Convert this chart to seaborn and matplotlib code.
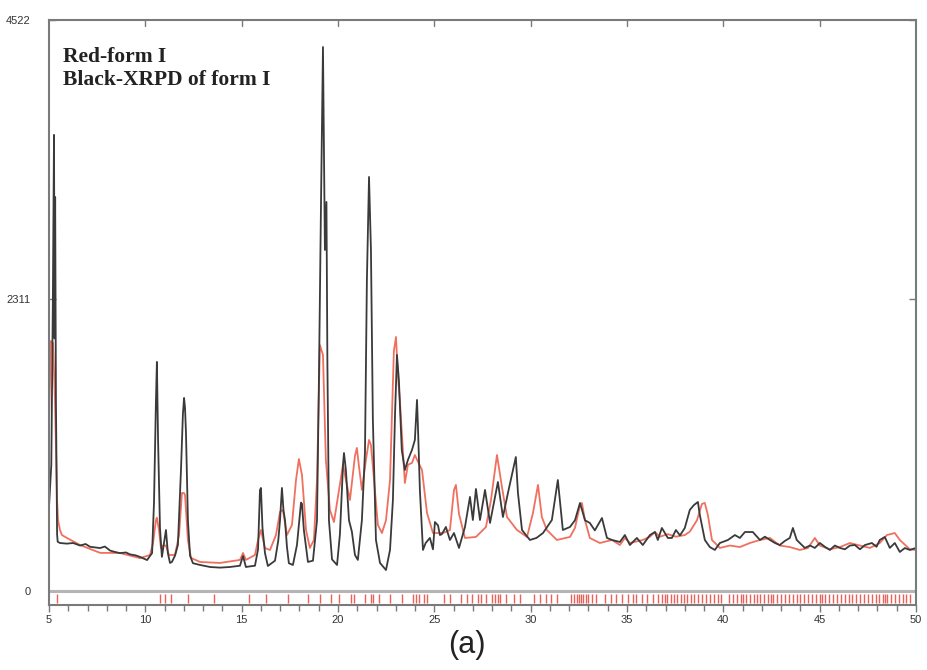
import numpy as np
import pandas as pd
import matplotlib
matplotlib.use("Agg")
import matplotlib.pyplot as plt
import seaborn as sns

# ---- data (2-theta in degrees, intensity in counts) ----
black_tt = [5.00, 5.12, 5.20, 5.26, 5.29, 5.32, 5.36, 5.42, 5.45, 5.57, 5.93, 6.25, 6.61, 6.90, 7.13,
            7.40, 7.65, 7.90, 8.17, 8.40, 8.68, 9.00, 9.20, 9.50, 9.72, 10.09, 10.35, 10.45, 10.55,
            10.60, 10.66, 10.76, 10.86, 10.97, 11.07, 11.17, 11.28, 11.38, 11.54, 11.69, 11.85, 11.95,
            12.01, 12.06, 12.11, 12.21, 12.32, 12.47, 12.84, 13.36, 13.87, 14.39, 14.91, 15.07, 15.22,
            15.43, 15.69, 15.85, 15.95, 16.00, 16.08, 16.21, 16.36, 16.73, 16.90, 16.99, 17.09, 17.17,
            17.25, 17.35, 17.45, 17.66, 17.87, 18.08, 18.13, 18.23, 18.44, 18.70, 18.91, 19.01, 19.12,
            19.22, 19.27, 19.32, 19.40, 19.45, 19.53, 19.69, 19.95, 20.10, 20.26, 20.31, 20.41, 20.57,
            20.72, 20.88, 21.03, 21.24, 21.40, 21.50, 21.61, 21.71, 21.81, 21.97, 22.18, 22.49, 22.70,
            22.85, 22.96, 23.06, 23.16, 23.31, 23.47, 23.63, 23.84, 23.99, 24.10, 24.15, 24.25, 24.41,
            24.55, 24.77, 24.93, 25.03, 25.19, 25.29, 25.39, 25.60, 25.81, 26.02, 26.28, 26.59, 26.85,
            27.00, 27.16, 27.37, 27.63, 27.89, 28.30, 28.56, 28.82, 29.23, 29.34, 29.55, 29.96, 30.30,
            30.64, 31.10, 31.41, 31.67, 32.04, 32.30, 32.56, 32.82, 33.07, 33.33, 33.70, 33.96, 34.22,
            34.63, 34.89, 35.15, 35.51, 35.82, 36.19, 36.45, 36.60, 36.81, 37.12, 37.33, 37.54, 37.75,
            38.00, 38.26, 38.47, 38.68, 38.78, 39.04, 39.30, 39.56, 39.82, 40.24, 40.60, 40.86, 41.12,
            41.53, 41.90, 42.16, 42.42, 42.68, 42.93, 43.19, 43.45, 43.61, 43.81, 44.23, 44.50, 44.75,
            45.01, 45.27, 45.53, 45.79, 46.05, 46.31, 46.57, 46.83, 47.09, 47.35, 47.71, 47.95, 48.12,
            48.38, 48.64, 48.90, 49.16, 49.42, 49.68, 50.00]
black_cnt = [665, 1000, 2300, 3612, 2000, 3120, 1500, 450, 390, 380, 375, 380, 360, 372, 350,
             345, 340, 352, 320, 310, 300, 305, 290, 282, 270, 245, 300, 700, 1500,
             1814, 1200, 500, 270, 380, 483, 300, 222, 230, 280, 364, 958, 1400,
             1529, 1450, 1250, 560, 280, 220, 206, 190, 185, 190, 200, 277, 190,
             195, 200, 330, 800, 816, 500, 300, 198, 240, 400, 560, 816, 640,
             560, 350, 220, 206, 364, 700, 690, 480, 230, 240, 560, 1671, 3097,
             4308, 3500, 2701, 3081, 1800, 560, 250, 206, 450, 1000, 1093, 958, 560,
             470, 285, 246, 560, 1100, 2463, 3279, 2701, 1354, 404, 222, 166, 325,
             721, 1400, 1869, 1671, 1117, 958, 1038, 1117, 1196, 1513, 1300, 800, 325,
             380, 420, 330, 546, 520, 443, 450, 507, 404, 459, 341, 507, 745,
             562, 808, 562, 800, 539, 863, 586, 776, 1061, 776, 483, 404, 420,
             459, 562, 879, 483, 507, 560, 697, 560, 539, 480, 578, 420, 404,
             388, 443, 364, 420, 364, 443, 467, 404, 499, 420, 420, 483, 440,
             499, 642, 680, 705, 602, 404, 348, 325, 380, 404, 443, 420, 467,
             467, 404, 430, 404, 380, 364, 396, 420, 499, 404, 341, 360, 341,
             380, 350, 325, 360, 341, 330, 360, 364, 330, 364, 380, 350, 404,
             428, 341, 380, 309, 340, 325, 341]

red_tt = [5.00, 5.10, 5.21, 5.31, 5.42, 5.47, 5.57, 5.67, 5.93, 6.61, 7.65, 8.68, 9.72, 10.24, 10.40,
          10.55, 10.60, 10.71, 10.81, 10.92, 11.07, 11.23, 11.54, 11.75, 11.90, 12.01, 12.06, 12.21,
          12.37, 12.84, 13.87, 14.91, 15.07, 15.22, 15.69, 15.85, 16.00, 16.21, 16.47, 16.78, 16.99,
          17.14, 17.35, 17.61, 17.82, 17.97, 18.13, 18.34, 18.54, 18.75, 18.91, 19.06, 19.22, 19.37,
          19.58, 19.79, 20.05, 20.26, 20.41, 20.62, 20.88, 20.98, 21.08, 21.24, 21.45, 21.61, 21.71,
          21.87, 22.07, 22.28, 22.49, 22.70, 22.80, 22.90, 23.01, 23.11, 23.21, 23.47, 23.63, 23.84,
          23.99, 24.10, 24.36, 24.62, 24.93, 25.45, 25.81, 26.02, 26.12, 26.28, 26.59, 27.16, 27.68,
          27.94, 28.25, 28.51, 28.77, 29.29, 29.81, 30.12, 30.38, 30.58, 30.84, 31.36, 32.04, 32.30,
          32.56, 32.66, 32.82, 33.07, 33.59, 34.22, 34.63, 34.89, 35.15, 35.82, 36.19, 36.45, 36.71,
          37.12, 37.54, 38.00, 38.26, 38.63, 38.89, 39.04, 39.20, 39.41, 39.82, 40.34, 40.86, 41.38,
          41.90, 42.42, 42.93, 43.45, 43.97, 44.39, 44.75, 45.01, 45.53, 46.05, 46.57, 47.09, 47.61,
          48.12, 48.49, 48.90, 49.16, 49.68, 50.00]
red_cnt = [1350, 1980, 1964, 1509, 720, 560, 483, 443, 420, 364, 302, 301, 260, 285, 380,
           560, 580, 480, 340, 360, 360, 285, 285, 443, 776, 776, 760, 404,
           262, 230, 222, 246, 301, 246, 285, 404, 483, 340, 325, 443, 626,
           642, 443, 523, 879, 1045, 919, 483, 341, 404, 879, 1948, 1869, 1038,
           642, 546, 800, 1000, 880, 721, 1069, 1133, 998, 800, 1038, 1196, 1156,
           880, 523, 459, 560, 880, 1378, 1900, 2012, 1700, 1513, 855, 1000, 1014,
           1077, 1040, 958, 618, 459, 459, 483, 800, 840, 610, 420, 428, 507,
           720, 1077, 824, 586, 483, 428, 618, 840, 586, 483, 404, 428, 500,
           680, 697, 560, 420, 380, 404, 364, 420, 380, 404, 430, 467, 430,
           450, 430, 443, 470, 560, 690, 697, 600, 404, 341, 360, 348, 380,
           404, 420, 360, 348, 325, 340, 420, 360, 330, 348, 380, 360, 341,
           380, 443, 459, 404, 330, 325]

reflections = [5.41, 10.75, 11.04, 11.33, 12.21, 13.56, 15.38, 16.26, 17.43, 18.46, 19.05, 19.63,
               20.07, 20.66, 20.81, 21.39, 21.69, 21.83, 22.13, 22.71, 23.30, 23.89, 24.03, 24.18,
               24.47, 24.62, 25.50, 25.79, 26.38, 26.67, 26.96, 27.26, 27.40, 27.70, 27.99, 28.14,
               28.28, 28.43, 28.72, 29.16, 29.46, 30.19, 30.48, 30.78, 31.07, 31.36, 32.10, 32.25,
               32.40, 32.50, 32.60, 32.70, 32.85, 33.00, 33.20, 33.40, 33.85, 34.15, 34.44, 34.74,
               35.03, 35.30, 35.45, 35.80, 36.05, 36.35, 36.60, 36.80, 36.95, 37.10, 37.30, 37.45,
               37.60, 37.80, 37.95, 38.10, 38.30, 38.50, 38.70, 38.90, 39.10, 39.30, 39.50, 39.70,
               39.90, 40.30, 40.50, 40.70, 40.90, 41.00, 41.20, 41.40, 41.60, 41.75, 41.90, 42.10,
               42.30, 42.50, 42.60, 42.80, 43.00, 43.20, 43.40, 43.60, 43.80, 44.00, 44.20, 44.40,
               44.60, 44.80, 45.00, 45.10, 45.30, 45.50, 45.70, 45.90, 46.10, 46.30, 46.50, 46.70,
               46.90, 47.10, 47.30, 47.50, 47.70, 47.90, 48.10, 48.30, 48.40, 48.50, 48.70, 48.90,
               49.10, 49.30, 49.50, 49.70]

y_ticks = [0, 2311, 4522]
y_tick_labels = ["0", "2311", "4522"]
x_ticks = [5, 10, 15, 20, 25, 30, 35, 40, 45, 50]
legend_lines = ["Red-form I", "Black-XRPD of form I"]
panel_label = "(a)"

# ---- figure ----
sns.set_style("white")
plt.rcParams["font.family"] = ["DejaVu Sans"]

fig = plt.figure(figsize=(9.27, 6.70), dpi=100)
ax = fig.add_axes([49 / 927, 1 - 605 / 670, 867 / 927, 585 / 670])

red_df = pd.DataFrame({"tt": red_tt, "cnt": red_cnt})
black_df = pd.DataFrame({"tt": black_tt, "cnt": black_cnt})

sns.lineplot(data=red_df, x="tt", y="cnt", ax=ax, color="#f0705f", lw=1.3,
             estimator=None, sort=False)
sns.lineplot(data=black_df, x="tt", y="cnt", ax=ax, color="#3a3a3a", lw=1.3,
             estimator=None, sort=False)

ax.axhline(0, color="#b5b5b5", lw=2.2, zorder=1)
ax.vlines(reflections, -95, -22, color="#e8453c", lw=1.0, alpha=0.85)

ax.set_xlim(5, 50)
ax.set_ylim(-111, 4522)
ax.set_xlabel("")
ax.set_ylabel("")

for s in ax.spines.values():
    s.set_color("#7a7a7a")
    s.set_linewidth(1.5)

tick_font = ["Liberation Sans Narrow", "Liberation Sans", "DejaVu Sans"]
ax.set_xticks(x_ticks)
ax.set_xticklabels([str(v) for v in x_ticks], family=tick_font, fontsize=8, color="#333333")
ax.set_xticks(np.arange(5, 51, 1), minor=True)
ax.tick_params(axis="x", which="major", direction="out", length=5, width=1, color="#7a7a7a",
               pad=2, bottom=True, top=False)
ax.tick_params(axis="x", which="minor", direction="out", length=4, width=1, color="#7a7a7a",
               bottom=True, top=False)

ax.set_yticks(y_ticks)
ax.set_yticklabels(y_tick_labels, family=tick_font, fontsize=8, color="#333333")
ax.tick_params(axis="y", which="major", direction="in", length=5, width=1, color="#7a7a7a",
               pad=13, left=True, right=True)

# top inner ticks
for v in x_ticks[1:-1]:
    ax.plot([v, v], [4522, 4522 - 45], color="#7a7a7a", lw=1, clip_on=False)

ax.text(0.016, 0.953, "\n".join(legend_lines), transform=ax.transAxes, ha="left", va="top",
        family=["Liberation Serif", "DejaVu Serif"], fontweight="bold", fontsize=15.5,
        color="#222222", linespacing=1.2)

fig.text(467 / 927, 1 - 645 / 670, panel_label, ha="center", va="center",
         family=["Liberation Sans", "DejaVu Sans"], fontsize=22, color="#222222")

fig.savefig("out.png", dpi=100)
